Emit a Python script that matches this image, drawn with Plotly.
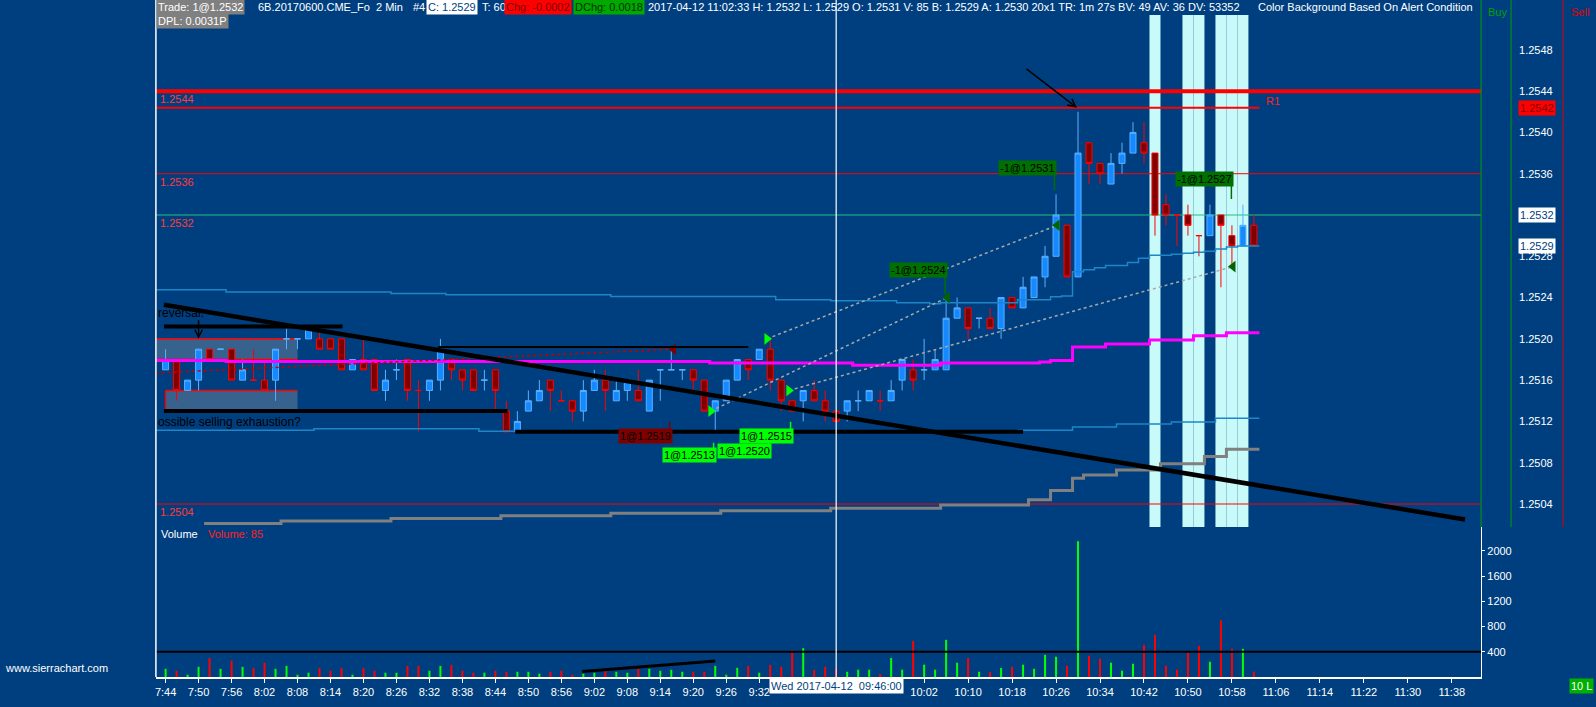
import pandas as pd
import plotly.graph_objects as go

# 6B (GBP) June 2017 futures, 2 minute bars, 2017-04-12 07:44 .. 11:02
first_bar = '2017-04-12 07:44'
bar_minutes = 2

opens = [1.2517, 1.2518, 1.2515, 1.2516, 1.2519, 1.2519, 1.2519, 1.2516, 1.2516, 1.2516,
         1.2516, 1.2520, 1.2520, 1.2520, 1.2520, 1.2520, 1.2520, 1.2517, 1.2518, 1.2518,
         1.2515, 1.2517, 1.2518, 1.2515, 1.2515, 1.2516, 1.2518, 1.2517, 1.2517, 1.2516,
         1.2517, 1.2513, 1.2511, 1.2513, 1.2514, 1.2516, 1.2514, 1.2514, 1.2513, 1.2515,
         1.2516, 1.2514, 1.2515, 1.2515, 1.2513, 1.2517, 1.2517, 1.2517, 1.2517, 1.2516,
         1.2513, 1.2514, 1.2516, 1.2518, 1.2518, 1.2519, 1.2516, 1.2514, 1.2514, 1.2515,
         1.2514, 1.2513, 1.2513, 1.2514, 1.2514, 1.2514, 1.2514, 1.2516, 1.2517, 1.2517,
         1.2517, 1.2517, 1.2522, 1.2523, 1.2522, 1.2522, 1.2521, 1.2524, 1.2523, 1.2524,
         1.2526, 1.2528, 1.2531, 1.2526, 1.2539, 1.2537, 1.2535, 1.2537, 1.2538, 1.2539,
         1.2538, 1.2533, 1.2532, 1.2532, 1.2530, 1.2530, 1.2532, 1.2530, 1.2529, 1.2531]
highs = [1.2519, 1.2518, 1.2516, 1.2519, 1.2519, 1.2519, 1.2519, 1.2518, 1.2519, 1.2518,
         1.2519, 1.2521, 1.2520, 1.2521, 1.2521, 1.2520, 1.2520, 1.2518, 1.2520, 1.2518,
         1.2517, 1.2518, 1.2518, 1.2516, 1.2516, 1.2520, 1.2518, 1.2517, 1.2517, 1.2517,
         1.2517, 1.2514, 1.2513, 1.2515, 1.2516, 1.2516, 1.2515, 1.2514, 1.2516, 1.2517,
         1.2517, 1.2516, 1.2516, 1.2517, 1.2516, 1.2517, 1.2519, 1.2517, 1.2517, 1.2516,
         1.2514, 1.2516, 1.2518, 1.2518, 1.2519, 1.2520, 1.2516, 1.2514, 1.2515, 1.2516,
         1.2515, 1.2513, 1.2514, 1.2515, 1.2515, 1.2515, 1.2516, 1.2518, 1.2518, 1.2520,
         1.2519, 1.2524, 1.2524, 1.2523, 1.2522, 1.2523, 1.2524, 1.2524, 1.2526, 1.2526,
         1.2529, 1.2534, 1.2531, 1.2542, 1.2539, 1.2537, 1.2538, 1.2539, 1.2541, 1.2541,
         1.2538, 1.2534, 1.2532, 1.2533, 1.2530, 1.2533, 1.2532, 1.2531, 1.2533, 1.2532]
lows = [1.2517, 1.2514, 1.2515, 1.2515, 1.2518, 1.2519, 1.2516, 1.2516, 1.2516, 1.2515,
        1.2514, 1.2519, 1.2519, 1.2520, 1.2519, 1.2519, 1.2517, 1.2517, 1.2517, 1.2515,
        1.2514, 1.2516, 1.2514, 1.2511, 1.2514, 1.2515, 1.2516, 1.2515, 1.2515, 1.2515,
        1.2513, 1.2511, 1.2511, 1.2513, 1.2514, 1.2513, 1.2514, 1.2512, 1.2512, 1.2515,
        1.2513, 1.2514, 1.2514, 1.2514, 1.2513, 1.2514, 1.2517, 1.2516, 1.2515, 1.2513,
        1.2511, 1.2514, 1.2516, 1.2516, 1.2518, 1.2515, 1.2513, 1.2513, 1.2512, 1.2514,
        1.2512, 1.2512, 1.2512, 1.2513, 1.2514, 1.2513, 1.2514, 1.2515, 1.2515, 1.2516,
        1.2517, 1.2517, 1.2522, 1.2520, 1.2521, 1.2521, 1.2520, 1.2523, 1.2523, 1.2524,
        1.2525, 1.2528, 1.2526, 1.2526, 1.2535, 1.2535, 1.2535, 1.2536, 1.2538, 1.2537,
        1.2530, 1.2531, 1.2529, 1.2530, 1.2528, 1.2530, 1.2525, 1.2527, 1.2529, 1.2529]
closes = [1.2518, 1.2515, 1.2516, 1.2519, 1.2518, 1.2519, 1.2516, 1.2517, 1.2516, 1.2515,
          1.2519, 1.2520, 1.2520, 1.2521, 1.2519, 1.2519, 1.2517, 1.2518, 1.2517, 1.2515,
          1.2516, 1.2517, 1.2515, 1.2515, 1.2516, 1.2519, 1.2517, 1.2516, 1.2515, 1.2516,
          1.2515, 1.2511, 1.2512, 1.2514, 1.2515, 1.2515, 1.2514, 1.2513, 1.2515, 1.2516,
          1.2515, 1.2515, 1.2516, 1.2514, 1.2516, 1.2517, 1.2517, 1.2517, 1.2516, 1.2513,
          1.2514, 1.2516, 1.2518, 1.2517, 1.2519, 1.2516, 1.2514, 1.2513, 1.2515, 1.2514,
          1.2513, 1.2512, 1.2514, 1.2514, 1.2515, 1.2514, 1.2515, 1.2518, 1.2516, 1.2517,
          1.2518, 1.2522, 1.2523, 1.2521, 1.2522, 1.2521, 1.2524, 1.2523, 1.2525, 1.2526,
          1.2528, 1.2532, 1.2526, 1.2538, 1.2537, 1.2536, 1.2537, 1.2538, 1.2540, 1.2538,
          1.2532, 1.2532, 1.2532, 1.2531, 1.2530, 1.2532, 1.2531, 1.2529, 1.2531, 1.2529]
volumes = [130, 99, 36, 161, 301, 130, 260, 161, 145, 228,
           130, 176, 36, 67, 145, 99, 145, 36, 145, 99,
           67, 67, 176, 176, 99, 176, 192, 99, 67, 67,
           99, 83, 83, 83, 52, 83, 99, 36, 52, 67,
           99, 83, 67, 130, 130, 99, 114, 83, 83, 83,
           176, 36, 145, 176, 67, 192, 161, 426, 457, 114,
           161, 130, 83, 116, 116, 47, 300, 116, 573, 195,
           116, 589, 226, 300, 84, 79, 142, 163, 195, 131,
           352, 321, 179, 2151, 337, 289, 226, 100, 210, 510,
           668, 179, 116, 405, 494, 242, 900, 447, 447, 85]
# g = up bar (blue candle / green volume), r = down bar
bar_dir = ('grggrgrgrr' 'ggggrrrgrr' 'ggrrggrrrg' 'rrgggrrrgg' 'rggrggggrr'
           'gggrgrrrgr' 'rrgggrggrg' 'gggrgrgrgg' 'ggrgrrgggr' 'rrrrrgrrgr')

# study lines, one value per bar
vwap_line = [1.25179, 1.25179, 1.25179, 1.25179, 1.25179, 1.25179, 1.25178, 1.25178, 1.25178, 1.25178,
             1.25178, 1.25178, 1.25178, 1.25178, 1.25178, 1.25178, 1.25178, 1.25178, 1.25178, 1.25178,
             1.25178, 1.25178, 1.25178, 1.25178, 1.25178, 1.25178, 1.25178, 1.25178, 1.25178, 1.25178,
             1.25178, 1.25178, 1.25178, 1.25178, 1.25178, 1.25178, 1.25178, 1.25178, 1.25178, 1.25178,
             1.25178, 1.25178, 1.25178, 1.25178, 1.25178, 1.25178, 1.25178, 1.25178, 1.25178, 1.25178,
             1.251765, 1.251765, 1.251765, 1.251765, 1.251765, 1.251765, 1.251765, 1.251765, 1.251765, 1.251765,
             1.251765, 1.251765, 1.251765, 1.251745, 1.251745, 1.251745, 1.251745, 1.251745, 1.251745, 1.251745,
             1.251745, 1.251765, 1.251765, 1.251765, 1.251765, 1.251765, 1.251765, 1.251765, 1.251765, 1.251765,
             1.251775, 1.25179, 1.25179, 1.25192, 1.25192, 1.25192, 1.25195, 1.25195, 1.25195, 1.25195,
             1.25199, 1.25199, 1.25199, 1.25199, 1.25203, 1.25203, 1.25203, 1.25206, 1.25206, 1.25206]
upper_band = [1.252475, 1.252475, 1.252475, 1.252475, 1.252475, 1.252475, 1.252455, 1.252455, 1.252455, 1.252455,
              1.252455, 1.252455, 1.252455, 1.252455, 1.252455, 1.252455, 1.252455, 1.252455, 1.252455, 1.252455,
              1.252455, 1.25244, 1.25244, 1.25244, 1.25244, 1.25244, 1.252427, 1.252427, 1.252427, 1.252427,
              1.252427, 1.252427, 1.252427, 1.252427, 1.252427, 1.252427, 1.252427, 1.252427, 1.252427, 1.252427,
              1.252427, 1.25241, 1.25241, 1.25241, 1.25241, 1.25241, 1.25241, 1.25241, 1.25241, 1.25241,
              1.25241, 1.25241, 1.25241, 1.25241, 1.25241, 1.25241, 1.25238, 1.25238, 1.25238, 1.25238,
              1.25238, 1.252368, 1.252368, 1.252368, 1.252368, 1.252368, 1.252368, 1.25235, 1.25235, 1.25235,
              1.25234, 1.25235, 1.25235, 1.25235, 1.25235, 1.25235, 1.25235, 1.25235, 1.25238, 1.25238,
              1.25238, 1.252407, 1.252416, 1.25265, 1.25267, 1.25269, 1.25271, 1.25271, 1.25274, 1.25278,
              1.25281, 1.25281, 1.25282, 1.25283, 1.25284, 1.25285, 1.25287, 1.25289, 1.2529, 1.2529]
lower_band = [1.251115, 1.251115, 1.251115, 1.251115, 1.251115, 1.251115, 1.251115, 1.251115, 1.251115, 1.251115,
              1.251115, 1.251115, 1.251115, 1.251115, 1.25113, 1.25113, 1.25113, 1.25113, 1.25113, 1.25113,
              1.25113, 1.25113, 1.25113, 1.25113, 1.25113, 1.25113, 1.25113, 1.25113, 1.25113, 1.251105,
              1.251105, 1.251105, 1.251105, 1.251105, 1.251105, 1.251105, 1.251105, 1.251105, 1.251105, 1.251105,
              1.251105, 1.251105, 1.251105, 1.251105, 1.251105, 1.251105, 1.251105, 1.251105, 1.251105, 1.251105,
              1.251105, 1.251105, 1.251105, 1.251105, 1.251105, 1.251105, 1.251105, 1.251105, 1.251105, 1.251105,
              1.251105, 1.251105, 1.251105, 1.251105, 1.251105, 1.251105, 1.251105, 1.251105, 1.251105, 1.251105,
              1.251105, 1.251105, 1.251105, 1.251105, 1.251105, 1.251105, 1.251105, 1.251105, 1.251115, 1.251115,
              1.251115, 1.251115, 1.251115, 1.251145, 1.251145, 1.251145, 1.251145, 1.251175, 1.251175, 1.251175,
              1.251175, 1.251175, 1.251195, 1.251195, 1.251195, 1.251195, 1.25123, 1.25123, 1.25123, 1.25123]
grey_line = [None, None, None, None, 1.25021, 1.25021, 1.25021, 1.25021, 1.25021, 1.25021,
             1.25021, 1.250235, 1.250235, 1.250235, 1.250235, 1.250235, 1.250235, 1.250235, 1.250235, 1.250235,
             1.250235, 1.25026, 1.25026, 1.25026, 1.25026, 1.25026, 1.25026, 1.25026, 1.25026, 1.25026,
             1.25026, 1.250285, 1.250285, 1.250285, 1.250285, 1.250285, 1.250285, 1.250285, 1.250285, 1.250285,
             1.250285, 1.25031, 1.25031, 1.25031, 1.25031, 1.25031, 1.25031, 1.25031, 1.25031, 1.25031,
             1.25031, 1.250335, 1.250335, 1.250335, 1.250335, 1.250335, 1.250335, 1.250335, 1.250335, 1.250335,
             1.250335, 1.25036, 1.25036, 1.25036, 1.25036, 1.25036, 1.25036, 1.25036, 1.25036, 1.25036,
             1.25036, 1.25039, 1.25039, 1.25039, 1.25039, 1.25039, 1.25039, 1.25039, 1.25039, 1.25044,
             1.25044, 1.25053, 1.25053, 1.25065, 1.25068, 1.25068, 1.25068, 1.25073, 1.25073, 1.25073,
             1.25073, 1.25079, 1.25079, 1.25079, 1.25079, 1.25086, 1.25086, 1.25093, 1.25093, 1.25093]

alert_bars = [90, 93, 94, 96, 97, 98]        # bars with the light background
level_prices = [1.2544, 1.2536, 1.2532, 1.2504]
r1_price = 1.25424

# hand drawn tools: bar position / price
trend_bars, trend_prices = [-0.15, 118.2], [1.25233, 1.25025]
hline_from = [-0.15, -0.15, 31.8, 24.8]
hline_to = [16.1, 31.1, 78.0, 53.0]
hline_price = [1.25212, 1.2513, 1.2511, 1.25192]
zone_from, zone_to = [-0.9, 0.0], [12.0, 12.0]
zone_low, zone_high = [1.2518, 1.2513], [1.2520, 1.2515]
notes = ['reversal.', 'ossible selling exhaustion?']
note_prices = [1.25225, 1.25119]
vol_trend_bars, vol_trend_vals = [37.9, 50.0], [88, 254]

# fills
buy_bars, buy_prices = [49.6, 54.7, 56.7], [1.2513, 1.2520, 1.2515]
sell_bars, sell_prices = [71.1, 81.1, 97.1], [1.2524, 1.2531, 1.2527]
cover_bar, cover_price = 46.2, 1.2519
short_open_bar, short_open_price = -0.9, 1.25167
tag_text = ['-1@1.2531', '-1@1.2524', '-1@1.2527', '1@1.2519', '1@1.2515', '1@1.2513', '1@1.2520']
tag_bars = [80.85, 70.9, 96.95, 45.85, 56.85, 49.85, 54.85]
tag_prices = [1.25366, 1.25267, 1.25355, 1.25106, 1.25106, 1.25087, 1.25091]
tag_stem = [1.25344, 1.252435, 1.253355, 1.251196, 1.251196, 1.250993, 1.25105]
tag_kind = ['sell', 'sell', 'sell', 'cover', 'buy', 'buy', 'buy']

price_ticks = [1.2504, 1.2508, 1.2512, 1.2516, 1.2520, 1.2524, 1.2528,
               1.2532, 1.2536, 1.2540, 1.2544, 1.2548]
vol_ticks = [400, 800, 1200, 1600, 2000]
time_ticks = ['7:44', '7:50', '7:56', '8:02', '8:08', '8:14', '8:20', '8:26', '8:32', '8:38',
              '8:44', '8:50', '8:56', '9:02', '9:08', '9:14', '9:20', '9:26', '9:32',
              '10:02', '10:10', '10:18', '10:26', '10:34', '10:42', '10:50', '10:58',
              '11:06', '11:14', '11:22', '11:30', '11:38']
crosshair_time = '2017-04-12 09:46'
header_texts = ['Trade: 1@1.2532', '6B.20170600.CME_Fo  2 Min', '#4', 'C: 1.2529', 'T: 60',
                'Chg: -0.0002', 'DChg: 0.0018',
                '2017-04-12 11:02:33 H: 1.2532 L: 1.2529 O: 1.2531 V: 85 B: 1.2529 A: 1.2530 20x1 '
                'TR: 1m 27s BV: 49 AV: 36 DV: 53352',
                'Color Background Based On Alert Condition']

# ---------------------------------------------------------------- layout geometry
FONT = 'Liberation Sans, Arial, sans-serif'
BG = '#003f7f'
W, H = 1596, 707
X0, X1 = 155, 1481
Y_TOP, Y_MID, Y_BOT = 15, 527, 677
BAR0_PX, BAR_PX = 164.7, 11.0

t0 = pd.Timestamp(first_bar)
def bt(pos):
    return t0 + pd.Timedelta(minutes=bar_minutes * pos)
def px(x):
    return x / W
def py(y):
    return 1 - y / H

bar_x = [bt(i) for i in range(len(opens))]
x_left = bt((X0 - BAR0_PX) / BAR_PX)
x_right = bt((X1 - BAR0_PX) / BAR_PX)
k = (504 - 215) / (1.2532 - 1.2504)
p_hi = 1.2532 + (215 - Y_TOP) / k
p_lo = 1.2532 - (Y_MID - 215) / k
vol_top = (Y_BOT - Y_MID) / 25.25 * 400

fig = go.Figure()

up = [i for i, d in enumerate(bar_dir) if d == 'g']
dn = [i for i, d in enumerate(bar_dir) if d == 'r']
for idx, fill, edge in ((up, '#1589ff', '#5ab0ff'), (dn, '#800000', '#ff0000')):
    fig.add_trace(go.Candlestick(
        x=[bar_x[i] for i in idx], open=[opens[i] for i in idx], high=[highs[i] for i in idx],
        low=[lows[i] for i in idx], close=[closes[i] for i in idx],
        increasing=dict(fillcolor=fill, line=dict(color=edge, width=1)),
        decreasing=dict(fillcolor=fill, line=dict(color=edge, width=1)),
        whiskerwidth=0, hoverinfo='skip', showlegend=False))

def steps(vals):
    xs = [x_left] + [bt(i - 0.5) for i in range(1, len(vals))] + [bt(len(vals) - 0.5)]
    return xs, list(vals) + [vals[-1]]

for vals, color, width in ((grey_line, '#808080', 3), (lower_band, '#1d86c6', 1.5),
                           (upper_band, '#1d86c6', 1.5), (vwap_line, '#ff00ff', 3)):
    xs, ys = steps(vals)
    fig.add_trace(go.Scatter(x=xs, y=ys, mode='lines', line=dict(color=color, width=width, shape='hv'),
                             hoverinfo='skip', showlegend=False))

# trade connection lines
for b0, p0, b1, p1 in zip(buy_bars, buy_prices, sell_bars, sell_prices):
    fig.add_trace(go.Scatter(x=[bt(b0), bt(b1)], y=[p0, p1], mode='lines',
                             line=dict(color='#a8a8a8', width=1.5, dash='dot'), hoverinfo='skip', showlegend=False))
fig.add_trace(go.Scatter(x=[bt(short_open_bar), bt(cover_bar)], y=[short_open_price, cover_price], mode='lines',
                         line=dict(color='#c00000', width=1.5, dash='dot'), hoverinfo='skip', showlegend=False))
fig.add_trace(go.Scatter(x=[bt(b) for b in buy_bars], y=buy_prices, mode='markers',
                         marker=dict(symbol='triangle-right', size=10, color='#00ff00'), hoverinfo='skip', showlegend=False))
fig.add_trace(go.Scatter(x=[bt(b) for b in sell_bars], y=sell_prices, mode='markers',
                         marker=dict(symbol='triangle-left', size=10, color='#006400'), hoverinfo='skip', showlegend=False))
fig.add_trace(go.Scatter(x=[bt(cover_bar)], y=[cover_price], mode='markers',
                         marker=dict(symbol='triangle-left', size=10, color='#800000'), hoverinfo='skip', showlegend=False))

fig.add_trace(go.Bar(x=bar_x, y=volumes, width=22000, xaxis='x2', yaxis='y2',
                     marker=dict(color=['#00ff00' if d == 'g' else '#ff0000' for d in bar_dir], line=dict(width=0)),
                     hoverinfo='skip', showlegend=False))

# ---------------------------------------------------------------- shapes
shapes = []
for b in alert_bars:
    shapes.append(dict(type='rect', xref='x', yref='y domain', x0=bt(b - 0.5), x1=bt(b + 0.5), y0=0, y1=1,
                       fillcolor='#c8fafa', line=dict(width=0), layer='below'))
for a, b, lo, hi in zip(zone_from, zone_to, zone_low, zone_high):
    shapes.append(dict(type='rect', xref='x', yref='y', x0=bt(a), x1=bt(b), y0=lo, y1=hi,
                       fillcolor='#37628e', line=dict(width=0), layer='below'))
    shapes.append(dict(type='line', xref='x', yref='y', x0=bt(a), x1=bt(b), y0=hi, y1=hi,
                       line=dict(color='#ff0000', width=1.5), layer='below'))
shapes.append(dict(type='line', xref='x', yref='y', x0=bt(zone_from[0]), x1=bt(zone_to[0]),
                   y0=zone_low[0], y1=zone_low[0], line=dict(color='#ff0000', width=1.5), layer='below'))
shapes.append(dict(type='line', xref='x', yref='y', x0=bt(zone_from[1]), x1=bt(zone_from[1]),
                   y0=zone_low[1], y1=zone_high[1], line=dict(color='#ff0000', width=1.5), layer='below'))
for p, color, width in zip(level_prices, ['#ff0000', '#ff0000', '#20c080', '#ff0000'], [4, 1, 1.2, 1]):
    shapes.append(dict(type='line', xref='paper', yref='y', x0=px(X0), x1=px(X1), y0=p, y1=p,
                       line=dict(color=color, width=width), layer='below'))
shapes.append(dict(type='line', xref='x', yref='y', x0=x_left, x1=bt(len(opens) - 0.5), y0=r1_price, y1=r1_price,
                   line=dict(color='#ff0000', width=2), layer='below'))
shapes.append(dict(type='line', xref='x', yref='y', x0=bt(trend_bars[0]), x1=bt(trend_bars[1]),
                   y0=trend_prices[0], y1=trend_prices[1], line=dict(color='black', width=4.5)))
for a, b, p, w in zip(hline_from, hline_to, hline_price, [4, 4, 4, 2]):
    shapes.append(dict(type='line', xref='x', yref='y', x0=bt(a), x1=bt(b), y0=p, y1=p,
                       line=dict(color='black', width=w)))
stem_colors = {'sell': '#007000', 'cover': '#800000', 'buy': '#00ff00'}
for b, p, s, kind in zip(tag_bars, tag_prices, tag_stem, tag_kind):
    shapes.append(dict(type='line', xref='x', yref='y', x0=bt(b), x1=bt(b), y0=p, y1=s,
                       line=dict(color=stem_colors[kind], width=1.5)))
shapes.append(dict(type='line', xref='paper', yref='y2', x0=px(X0), x1=px(X1), y0=400, y1=400,
                   line=dict(color='black', width=2)))
shapes.append(dict(type='line', xref='x2', yref='y2', x0=bt(vol_trend_bars[0]), x1=bt(vol_trend_bars[1]),
                   y0=vol_trend_vals[0], y1=vol_trend_vals[1], line=dict(color='black', width=3)))
# frame lines
shapes.append(dict(type='line', xref='paper', yref='paper', x0=px(X0), x1=px(X0), y0=py(0), y1=py(Y_BOT),
                   line=dict(color='white', width=1.5)))
shapes.append(dict(type='line', xref='x', yref='paper', x0=pd.Timestamp(crosshair_time), x1=pd.Timestamp(crosshair_time),
                   y0=py(0), y1=py(Y_BOT), line=dict(color='white', width=1.2)))
for xx, color in ((X1, '#00a000'), (1511, '#00a000'), (1563, '#e00000')):
    shapes.append(dict(type='line', xref='paper', yref='paper', x0=px(xx), x1=px(xx), y0=py(0), y1=py(Y_MID),
                       line=dict(color=color, width=1)))

# ---------------------------------------------------------------- annotations
ann = []
def note(text, x, y, xanchor='left', color='white', bg=None, size=11, **kw):
    d = dict(text=text, x=px(x), y=py(y), xref='paper', yref='paper', xanchor=xanchor, yanchor='middle',
             showarrow=False, font=dict(family=FONT, size=size, color=color), borderpad=1)
    if bg:
        d['bgcolor'] = bg
    d.update(kw)
    ann.append(d)

header_x = [155, 255, 410, 425, 479, 503, 572, 645, 1475]
header_style = [('white', '#808080'), ('white', None), ('white', None), ('#003f7f', 'white'), ('white', None),
                ('#7a0000', '#ff0000'), ('#003000', '#00a800'), ('white', None), ('white', None)]
for text, x, (fc, bg) in zip(header_texts, header_x, header_style):
    note(text, x, 7, xanchor='right' if x > 1400 else 'left', color=fc, bg=bg)
note('DPL: 0.0031P', 155, 21, bg='#808080')
note('Buy', 1486, 12, color='#00a000')
note('Sell', 1569, 12, color='#e00000')

for p in level_prices:
    ann.append(dict(text=f'{p:.4f}', x=px(157), xref='paper', y=p, yref='y', yshift=-8, xanchor='left',
                    yanchor='middle', showarrow=False, font=dict(family=FONT, size=11, color='#ff3b3b')))
ann.append(dict(text='R1', x=bt(len(opens) - 0.5), xref='x', y=r1_price, yref='y', xshift=5, yshift=7,
                xanchor='left', yanchor='middle', showarrow=False, font=dict(family=FONT, size=11, color='#ff2020')))
for text, p in zip(notes, note_prices):
    ann.append(dict(text=text, x=px(X0), xref='paper', y=p, yref='y', xanchor='left', yanchor='middle',
                    showarrow=False, font=dict(family=FONT, size=12, color='black')))
ann.append(dict(text='', x=bt(3), y=zone_high[0], xref='x', yref='y', ax=0, ay=-20, showarrow=True,
                arrowhead=5, arrowsize=1, arrowwidth=1.5, arrowcolor='black'))
ann.append(dict(text='', x=bt(82.9), y=r1_price, xref='x', yref='y', ax=-52, ay=-40, showarrow=True,
                arrowhead=5, arrowsize=1, arrowwidth=1.5, arrowcolor='black'))
tag_bg = {'sell': '#007000', 'cover': '#800000', 'buy': '#00ff00'}
for text, b, p, kind in zip(tag_text, tag_bars, tag_prices, tag_kind):
    ann.append(dict(text=text, x=bt(b), y=p, xref='x', yref='y', xanchor='right', yanchor='middle', xshift=3,
                    showarrow=False, bgcolor=tag_bg[kind], borderpad=1,
                    font=dict(family=FONT, size=11, color='black')))
# price column boxes: high/R1, last price, current bid
for p, fc, bg in ((r1_price, '#800000', '#ff0000'), (1.2532, '#003f7f', 'white'), (1.2529, '#003f7f', 'white')):
    ann.append(dict(text=f'{p:.4f}', x=px(1518), xref='paper', y=p, yref='y', xanchor='left', yanchor='middle',
                    showarrow=False, bgcolor=bg, borderpad=1, font=dict(family=FONT, size=11, color=fc)))

note('Volume', 158, 534)
note(f'Volume: {volumes[-1]}', 205, 534, color='#ff2020')
note('www.sierrachart.com', 2, 668)
ann.append(dict(text='Wed 2017-04-12  09:46:00', x=pd.Timestamp(crosshair_time), xref='x', y=py(686), yref='paper',
                xanchor='center', yanchor='middle', showarrow=False, bgcolor='white', borderpad=1,
                font=dict(family=FONT, size=11, color='#003f7f')))
note('10 L', 1594, 686, xanchor='right', bg='#00b000')

tick_dates = [pd.Timestamp(f'2017-04-12 {s:0>5}') for s in time_ticks]

fig.update_layout(
    width=W, height=H, margin=dict(l=0, r=0, t=0, b=0),
    paper_bgcolor=BG, plot_bgcolor=BG, showlegend=False, hovermode=False,
    boxgap=0.25, boxgroupgap=0.27,
    font=dict(family=FONT, size=11, color='white'),
    xaxis=dict(domain=[px(X0), px(X1)], range=[x_left, x_right], anchor='y', showticklabels=False,
               showgrid=False, zeroline=False, showline=False, rangeslider=dict(visible=False)),
    yaxis=dict(domain=[py(Y_MID), py(Y_TOP)], range=[p_lo, p_hi], anchor='x', side='right',
               tickvals=price_ticks, ticktext=[f'{v:.4f}' for v in price_ticks], ticks='',
               ticklabelstandoff=37, showgrid=False, zeroline=False, showline=False,
               tickfont=dict(family=FONT, size=11, color='white')),
    xaxis2=dict(domain=[px(X0), px(X1)], range=[x_left, x_right], anchor='y2', tickvals=tick_dates,
                ticktext=time_ticks, ticks='outside', ticklen=4, tickcolor='white', showline=True,
                linecolor='white', linewidth=1.5, showgrid=False, zeroline=False,
                tickfont=dict(family=FONT, size=11, color='white')),
    yaxis2=dict(domain=[py(Y_BOT), py(Y_MID)], range=[0, vol_top], anchor='x2', side='right',
                tickvals=vol_ticks, ticks='outside', ticklen=3, tickcolor='white', showline=True,
                linecolor='white', linewidth=1, showgrid=False, zeroline=False,
                tickfont=dict(family=FONT, size=11, color='white')),
    shapes=shapes, annotations=ann,
)

# pin the figure to the page corner and let it fill the browser viewport exactly
fit_page = """
var gd = document.getElementById('{plot_id}');
document.documentElement.style.margin = '0';
document.body.style.margin = '0';
document.documentElement.style.overflow = 'hidden';
document.body.style.overflow = 'hidden';
document.documentElement.style.background = '#003f7f';
document.body.style.background = '#003f7f';
gd.style.position = 'fixed';
gd.style.left = '0px';
gd.style.top = '0px';
return Plotly.relayout(gd, {width: window.innerWidth, height: window.innerHeight});
"""
fig.write_html('out.html', config={'displayModeBar': False}, post_script=fit_page)
